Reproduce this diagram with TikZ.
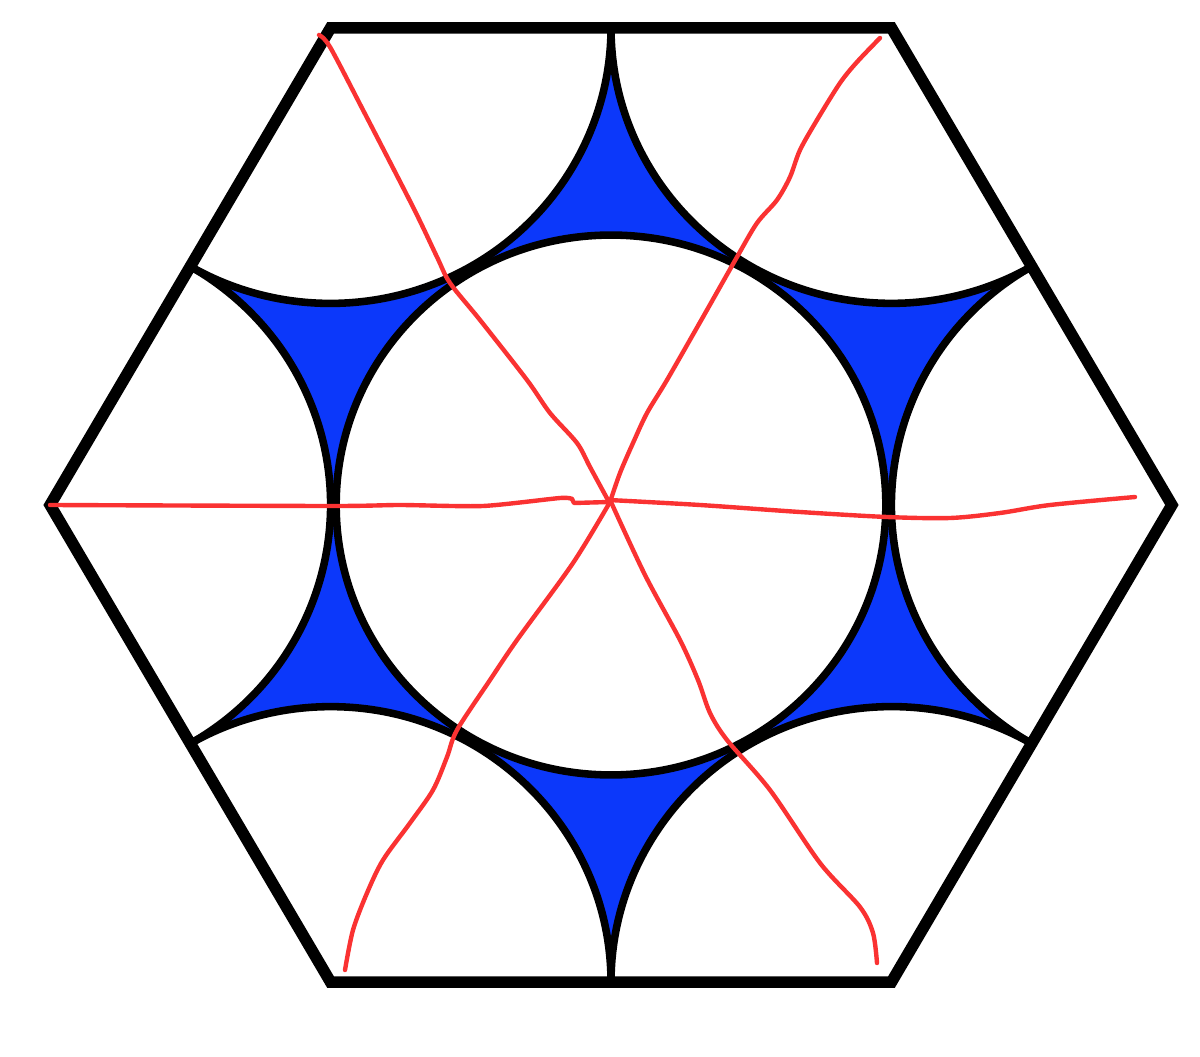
\documentclass[tikz,border=0pt]{standalone}
\definecolor{gapblue}{RGB}{12,56,250}
\definecolor{pathred}{RGB}{250,50,50}
\begin{document}
\begin{tikzpicture}[x=0.02cm,y=-0.02cm,
  hexline/.style={line width=6.6pt, line join=miter},
  arcline/.style={line width=4.3pt},
  redline/.style={pathred, line width=2.5pt, line cap=round, line join=round}]
\useasboundingbox (0,0) rectangle (1200,1057);
\fill[white] (0,0) rectangle (1200,1057);
\coordinate (O) at (611,505);
\def\rc{0.49}
\begin{scope}[shift={(O)}, x=11.22cm, y=11.02cm]
  \foreach \a in {0,60,...,300}{
    \pgfmathsetmacro\b{\a+60}
    \pgfmathsetmacro\c{\b+180}
    \pgfmathsetmacro\d{\b+240}
    \pgfmathsetmacro\e{\a+120}
    \pgfmathsetmacro\f{\a+180}
    \fill[gapblue] ({\rc*cos(\a)},{\rc*sin(\a)})
      arc[start angle=\a, end angle=\b, radius=\rc]
      -- ({0.5*cos(\b)},{0.5*sin(\b)})
      arc[start angle=\c, end angle=\d, radius=0.5]
      arc[start angle=\e, end angle=\f, radius=0.5] -- cycle;
  }
  \draw[arcline] (0,0) circle[radius=\rc];
  \foreach \a in {0,60,...,300}{
    \pgfmathsetmacro\s{\a+120}
    \pgfmathsetmacro\t{\a+240}
    \draw[arcline] ({cos(\a)+0.5*cos(\s)},{sin(\a)+0.5*sin(\s)})
      arc[start angle=\s, end angle=\t, radius=0.5];
  }
  \draw[hexline] (0:1) -- (60:1) -- (120:1) -- (180:1) -- (240:1) -- (300:1) -- cycle;
\end{scope}
% red hand-drawn lines
\draw[redline] plot[smooth, tension=0.5] coordinates {(319,35) (330,47) (363,110) (413,207) (437,257) (450,283) (480,320) (527,380) (550,413) (577,443) (590,467) (609,502)};
\draw[redline] plot[smooth, tension=0.5] coordinates {(880,38) (857,62) (840,83) (817,120) (800,150) (790,177) (777,200) (757,223) (737,257) (703,317) (667,380) (647,413) (633,443) (620,473) (610,502)};
\draw[redline] plot[smooth, tension=0.4] coordinates {(50,505) (333,506) (400,505) (483,506) (560,498) (572,499)};
\draw[redline] (572,499) -- (574,503) -- (609,502);
\draw[redline] plot[smooth, tension=0.5] coordinates {(609,500) (700,505) (800,512) (887,517) (950,518) (1000,513) (1050,505) (1135,497)};
\draw[redline] plot[smooth, tension=0.5] coordinates {(610,502) (573,563) (517,640) (490,680) (457,730) (447,757) (433,790) (410,823) (383,860) (367,893) (353,930) (345,970)};
\draw[redline] plot[smooth, tension=0.5] coordinates {(611,502) (645,575) (680,640) (698,680) (710,713) (727,740) (770,790) (820,863) (860,907) (873,933) (877,963)};
\end{tikzpicture}
\end{document}
